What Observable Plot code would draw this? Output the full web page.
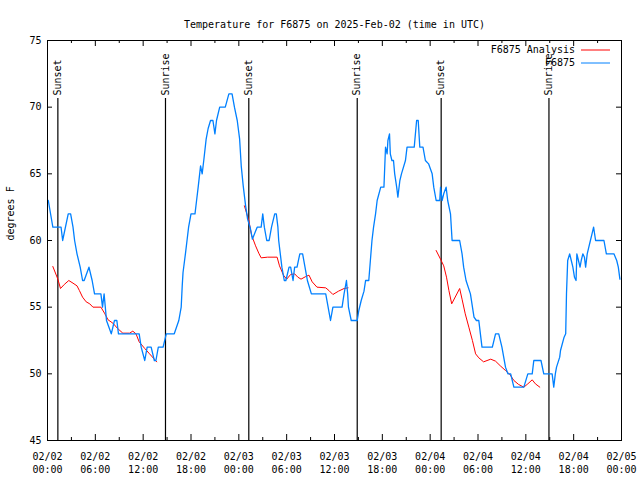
<!DOCTYPE html>
<html>
<head>
<meta charset="utf-8">
<script src="https://cdn.jsdelivr.net/npm/d3@7"></script>
<script src="https://cdn.jsdelivr.net/npm/@observablehq/plot@0.6"></script>
<style>
  html, body { margin: 0; padding: 0; background: #fff; }
</style>
</head>
<body>
<div id="chart"></div>
<script>
// ---- data (hours after 2025-02-02 00:00 UTC, degrees F) ----
const title = "Temperature for F6875 on 2025-Feb-02 (time in UTC)";
const yLabel = "degrees F";
const obsName = "F6875";
const anaName = "F6875 Analysis";

const obsHours = [0.1,0.67,1.7,1.9,2.6,2.9,3.2,3.4,3.7,4.1,4.4,4.6,5.2,5.6,5.9,6.7,6.9,7.1,7.4,8.0,8.4,8.7,8.9,11.5,11.75,12.2,12.5,13.0,13.4,13.6,13.9,14.5,14.9,
  15.9,16.47,16.77,16.9,17.0,17.3,17.5,17.7,18.0,18.5,18.7,18.9,19.2,19.4,19.6,19.9,20.15,20.45,20.75,21.0,21.2,21.6,22.3,22.75,23.15,23.45,23.8,24.1,24.3,24.55,24.85,25.1,25.45,25.7,
  26.3,26.8,27.0,27.2,27.5,27.8,28.1,28.5,28.7,28.9,29.0,29.2,29.4,29.7,29.9,30.3,30.5,30.8,31.0,31.3,31.65,32.0,32.3,32.6,33.1,34.9,35.2,35.5,35.8,36.95,37.2,37.5,37.65,37.75,38.1,38.85,
  39.05,39.35,39.7,39.9,40.3,40.5,40.7,40.9,41.15,41.35,41.8,42.2,42.4,42.6,42.7,42.9,43.0,43.2,43.4,43.55,43.8,43.95,44.2,44.4,44.9,45.1,46.0,46.3,46.5,46.7,47.1,47.4,47.8,48.25,48.45,48.75,49.2,49.3,49.5,49.7,50.0,50.2,50.55,50.75,51.7,
  52.0,52.2,52.5,53.05,53.5,53.8,54.1,54.3,54.5,55.8,56.2,56.6,57.0,57.45,57.75,58.1,58.5,59.75,60.25,60.8,61.0,61.9,62.25,63.3,63.5,63.7,63.85,64.25,
  64.35,64.8,65.0,65.1,65.25,65.5,65.7,65.9,66.1,66.3,66.4,66.6,66.8,66.95,67.15,67.35,67.5,67.7,67.9,68.1,68.3,68.5,68.75,69.8,70.1,71.05,71.4,71.6,71.8];
const obsTemps = [63,61,61,60,62,62,61,60,59,58,57,57,58,57,56,56,55,56,54,53,54,54,53,53,52,51,52,52,51,51,52,52,53,
  53,54,55,56.6,57.6,59,60,61,62,62,63,64,65.6,65,66,67.6,68.4,69,69,68,69,70,70,71,71,70,69,67.6,65.6,64.1,62.6,61.6,60.9,60.1,
  61,61,62,61,60,60,61,62,62,61,60,59,58,57,57,58,58,57,58,58,59,59,58,57,56,56,55,54,55,55,56,57,56,55,54,54,
  54.75,55.5,56.2,57,57,58.5,60,61,62,63,64,64,67,66.5,67.5,68,66.5,66,66,65,64,63.25,64.5,65,66,67,67,69,69,67,67,66,65.75,65,64,63,63,64,63,63.5,64,63,62,60,60,
  59,58,57,56,54.25,54,54,53,52,52,53,53,52,50.5,50,50,49,49,50,50,51,51,50,50,49,50,50.5,51.25,
  51.75,52.75,53,56,58.5,59,58.5,58,57.25,57,59,58.5,58,58.5,59,58.75,58,59,59.5,60,60.5,61,60,60,59,59,58.5,58,57.1];

// analysis series: null marks a gap between runs
const anaHours = [0.67,1.3,1.63,2.1,2.67,3.2,3.7,4.0,4.4,4.85,5.3,5.7,6.7,7.15,7.6,8.2,8.8,9.45,10.3,10.7,11.1,11.5,12.2,12.8,13.4,13.7,
  13.8,
  24.7,25.25,25.6,26.1,26.5,26.8,27.6,28.8,29.1,29.6,30.0,30.5,31.0,31.4,31.8,32.4,32.8,33.2,33.8,34.9,35.3,35.8,36.5,37.2,37.7,
  37.8,
  48.75,49.3,49.7,50.05,50.35,50.7,51.7,52.0,52.4,52.85,53.3,53.7,54.1,54.7,55.6,56.2,56.8,57.45,58.0,58.5,59.1,59.75,60.25,60.8,61.2,61.75];
const anaTemps = [58.05,57.1,56.4,56.7,57.0,56.8,56.6,56.25,55.75,55.4,55.25,55.0,55.0,54.55,54.05,53.8,53.4,53.05,53.05,53.2,53.0,52.4,51.9,51.5,51.1,50.9,
  null,
  62.6,61.5,60.4,59.6,59.05,58.7,58.75,58.75,58.1,57.4,57.1,57.45,57.5,57.25,57.1,57.3,57.4,56.9,56.5,56.45,56.25,55.95,56.2,56.4,56.45,
  null,
  59.25,58.6,58.1,57.25,56.25,55.25,56.4,55.6,54.5,53.5,52.5,51.5,51.2,50.9,51.1,50.95,50.6,50.25,49.95,49.5,49.2,49.0,49.25,49.55,49.25,49.0];

const sunsetHours = [1.3, 25.25, 49.38];
const sunriseHours = [14.8, 38.85, 62.9];

const yTicks = [45, 50, 55, 60, 65, 70, 75];
const xMajorHours = [0, 6, 12, 18, 24, 30, 36, 42, 48, 54, 60, 66, 72];
const xMinorHours = [3, 9, 15, 21, 27, 33, 39, 45, 51, 57, 63, 69];

// ---- helpers ----
const t0 = Date.UTC(2025, 1, 2, 0, 0);
const toDate = h => new Date(t0 + h * 3600e3);
const fmt = d3.utcFormat("%m/%d\n%H:%M");

const obs = obsHours.map((h, i) => ({t: toDate(h), v: obsTemps[i]}));
const ana = anaHours.map((h, i) => ({t: toDate(h), v: anaTemps[i]}));
const sunEvents = [
  ...sunsetHours.map(h => ({t: toDate(h), label: "Sunset"})),
  ...sunriseHours.map(h => ({t: toDate(h), label: "Sunrise"}))
];

const RED = "#ff0000";
const BLUE = "#0080ff";
const FONT = "DejaVu Sans Mono";

const W = 640, H = 480, ML = 47, MR = 19, MT = 40, MB = 40;
const FW = W - ML - MR, FH = H - MT - MB;

// legend drawn as a render function in frame-relative terms
function legend(index, scales, values, dims) {
  const g = d3.create("svg:g")
    .attr("font-family", FONT).attr("font-size", 10);
  const xr = dims.width - dims.marginRight;
  const rows = [{name: anaName, color: RED}, {name: obsName, color: BLUE}];
  rows.forEach((r, i) => {
    const y = dims.marginTop + 10 + i * 13;
    g.append("text").attr("x", xr - 46).attr("y", y).attr("dy", "0.32em")
      .attr("text-anchor", "end").attr("fill", "#000").text(r.name);
    g.append("line").attr("x1", xr - 40).attr("x2", xr - 11)
      .attr("y1", y).attr("y2", y).attr("stroke", r.color).attr("stroke-width", 1);
  });
  return g.node();
}

const chart = Plot.plot({
  width: W, height: H,
  marginLeft: ML, marginRight: MR, marginTop: MT, marginBottom: MB,
  style: {fontFamily: FONT, fontSize: "10px", background: "#fff", color: "#000"},
  x: {type: "utc", domain: [toDate(0), toDate(72)], label: null},
  y: {domain: [45, 75], label: null},
  marks: [
    // axes labels only (ticks drawn inward below)
    Plot.axisX(xMajorHours.map(toDate), {tickSize: 0, tickPadding: 11, tickFormat: fmt, lineHeight: 1.25, fontSize: 10, label: null}),
    Plot.axisY(yTicks, {tickSize: 0, tickPadding: 6, fontSize: 10, label: null}),
    // inward ticks, mirrored
    Plot.tickX(xMajorHours.map(toDate), {x: d => d, insetTop: FH - 6, stroke: "#000"}),
    Plot.tickX(xMajorHours.map(toDate), {x: d => d, insetBottom: FH - 6, stroke: "#000"}),
    Plot.tickX(xMinorHours.map(toDate), {x: d => d, insetTop: FH - 3, stroke: "#000"}),
    Plot.tickX(xMinorHours.map(toDate), {x: d => d, insetBottom: FH - 3, stroke: "#000"}),
    Plot.tickY(yTicks, {y: d => d, insetRight: FW - 5, stroke: "#000"}),
    Plot.tickY(yTicks, {y: d => d, insetLeft: FW - 5, stroke: "#000"}),
    // sunrise / sunset markers
    Plot.ruleX(sunEvents, {x: "t", insetTop: 58, stroke: "#000", strokeWidth: 1.2}),
    Plot.text(sunEvents, {x: "t", text: "label", frameAnchor: "top", dy: 55, rotate: -90,
      textAnchor: "start", lineAnchor: "middle", fill: "#000", fontSize: 10}),
    // data
    Plot.line(ana, {x: "t", y: "v", stroke: RED, strokeWidth: 1}),
    Plot.line(obs, {x: "t", y: "v", stroke: BLUE, strokeWidth: 1.3}),
    Plot.frame({stroke: "#000"}),
    // title and axis label
    Plot.text([title], {frameAnchor: "top", dy: -20, fontSize: 10, fill: "#000"}),
    Plot.text([yLabel], {frameAnchor: "left", dx: -37, rotate: -90, fontSize: 10, fill: "#000"}),
    legend
  ]
});
document.getElementById("chart").appendChild(chart);
</script>
</body>
</html>
